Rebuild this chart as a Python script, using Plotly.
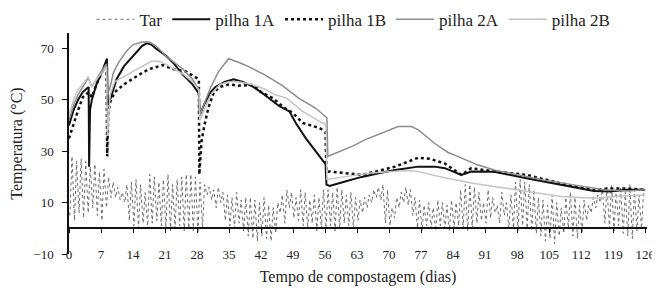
import plotly.graph_objects as go

# ---------------- data ----------------
tick_days = [0, 7, 14, 21, 28, 35, 42, 49, 56, 63, 70, 77, 84, 91, 98, 105, 112, 119, 126]
y_ticks = [-10, 10, 30, 50, 70]

# Air temperature (Tar): daily maximum and minimum, days 0..125
tar_days = list(range(126))
tar_max = [28, 26, 27, 26, 24,
           25, 22, 23, 20, 18,
           16, 14, 17, 18,
           19, 17, 14, 21,
           20, 18, 19, 21, 17,
           19, 20, 21, 21, 20, 18, 17,
           16, 15, 16, 14,
           13, 12, 14, 11, 12,
           12, 11, 10, 12, 9, 8, 10,
           13, 15, 14, 12, 15,
           14, 11, 13, 12, 15,
           15, 14, 16, 15, 13, 14,
           12, 11, 12, 13, 15, 16, 17, 15,
           8, 12, 14, 16, 15, 12,
           11, 9, 10, 8, 11, 10, 9, 11, 10,
           15, 17, 17, 16, 14, 10,
           15, 12, 9, 14, 10, 13,
           18, 19, 18, 17, 15,
           12, 11, 9, 13, 10, 8, 12, 14, 12, 9,
           11, 9, 12, 13, 15,
           16, 17, 15, 16, 14, 17, 15, 13, 14]
tar_min = [5, 3, 6, 4, 6,
           8, 5, 3, 8, 12,
           12, 11, 10, 3,
           1, 0, 2, 1,
           2, 3, 1, 0, -1,
           0, 1, -1, 0, -1, -2, 0,
           13, 11, 8, 10,
           3, 1, 0, 2, -1,
           -3, -4, -5, -3, -4, -5, -2,
           6, 2, 8, 4, 3,
           1, 0, 2, -1, 0,
           0, 1, -1, 0, 2, 1,
           0, 3, 6, 8, 10, 12, 11, 2,
           1, 4, 8, 10, 9, 5,
           0, -1, 1, 0, -1, 1, 0, -1, 0,
           1, 0, -1, 0, 2, 3,
           2, 4, 6, 2, 5, 0,
           0, -1, 1, 0, -1,
           -2, -3, -5, -4, -6, -3, -2, 0, -3, -4,
           -2, 3, 6, 8, 10,
           2, 0, -1, 1, -2, -3, -4, -1, 0]

p1a_day = [0, 1, 2, 3, 4.3, 4.4, 4.6, 5, 6, 7, 8.3, 8.5, 9, 10.4, 12, 14, 16, 17, 18, 19,
           21.3, 23, 24.8, 27, 28.4, 28.6, 29.5, 31, 32, 34, 36, 38, 40.3, 42, 44.6, 46,
           48.2, 49.6, 51.8, 54, 56.1, 56.3, 57, 60, 64, 68, 71.3, 76.4, 80, 82.2, 85.8,
           88, 93, 100, 107.6, 114.8, 118.4, 122, 126]
p1a_val = [40, 46, 50, 53, 55, 24, 46, 50, 56, 60, 66, 48, 50, 58, 63, 67, 71, 72, 71.5, 70,
           67, 64, 60, 56, 52.5, 44, 48, 53, 55, 57, 58, 57, 55, 53, 49.5, 47.5,
           45.5, 41, 35, 30, 25, 17, 16.5, 18, 20, 21.5, 22.7, 24, 24, 23.4, 20.8,
           22.1, 22, 19.5, 17, 14.5, 14.3, 15, 15]

p1b_day = [0, 1, 2, 3, 4.3, 5, 6, 7, 8.2, 8.35, 8.6, 9, 10, 12, 14, 16, 17.6, 20.5, 22.7,
           25.6, 28.4, 28.5, 29, 29.6, 30.5, 31.7, 33, 35, 37, 40.3, 42, 44.6, 47, 49,
           51.1, 54.8, 56.1, 56.3, 57, 60, 64, 68, 71.3, 76.4, 79, 82.2, 85.8, 88, 93,
           100, 107.6, 114.8, 118, 122, 126]
p1b_val = [35, 41, 46, 51, 53, 51, 56, 60, 64, 28, 45, 49, 53, 56, 58.4, 60.5, 62, 63.5, 62,
           61, 58, 21, 34, 40, 47, 53, 55, 56, 55.5, 55.8, 53, 50.6, 47, 44.8,
           41, 39, 37.5, 22, 22.1, 21.5, 20.8, 22.5, 24, 27.5, 27, 25.2, 20.8, 23.4, 22.1,
           20.8, 17.5, 14.9, 15.5, 15.5, 15]

p2a_day = [0, 1, 2, 3, 4.2, 5, 6, 7, 8.2, 8.4, 9, 9.7, 11, 12.6, 14, 16, 17.6, 19, 21.2, 23,
           24.9, 27, 28.4, 28.6, 29.8, 31, 32.7, 34.9, 37.2, 39.4, 43, 46.6, 50.3, 53.9,
           56.4, 56.6, 58, 62, 64.8, 68.4, 72, 74.9, 76.4, 80, 82.9, 85, 89.3, 93, 96.6,
           100, 103.8, 110, 117, 122, 126]
p2a_val = [42, 48, 52, 55, 58.5, 55, 58, 61, 64, 52, 55, 60.5, 65, 69, 71.5, 72.5, 72.5, 71, 67, 64.5,
           62, 58, 54, 44, 49.4, 55, 61, 66, 64.5, 62.8, 59.5, 55.6, 50.6, 46.8,
           43, 28, 29, 32, 34.5, 37, 39.6, 39.6, 38.3, 33, 29.5, 28, 24.7, 22.7, 21.4,
           20, 18.8, 17, 15, 14.5, 15]

p2b_day = [0, 1, 2, 3, 4.2, 5, 6, 7, 8.2, 8.4, 9, 10, 12, 14, 16, 18, 19.5, 21, 23, 25, 27,
           28.4, 28.6, 29.8, 31, 33, 35, 37, 40, 43, 45, 47.5, 51.1, 54.8, 56.2, 56.4, 58,
           62, 66, 70, 74, 76.4, 80, 84.4, 88, 94, 100.3, 107.6, 114.8, 120, 126]
p2b_val = [44, 50, 54, 56, 59, 55, 58, 60, 63, 36, 52, 57, 59, 61, 63, 65, 65, 64, 62, 60, 57,
           54, 42, 47, 52, 56, 57, 57, 56, 54, 52, 50.7, 45.5, 41.6, 40.3, 19, 19.5,
           20.5, 21.5, 22, 22.5, 22.1, 20.5, 18.9, 17.6, 16, 14.3, 12.4, 11.7, 12.5, 13]

# build Tar series: minimum in the early morning, maximum in the afternoon
tar_x, tar_y = [], []
for d, lo, hi in zip(tar_days, tar_min, tar_max):
    tar_x += [d + 0.2, d + 0.65]
    tar_y += [lo, hi]

FONT = "Liberation Serif"
X_RANGE = [0, 126.4]
Y_RANGE = [-10, 76]

fig = go.Figure()
fig.add_trace(go.Scatter(x=tar_x, y=tar_y, name="Tar", mode="lines",
                         line=dict(color="#6a6a6a", width=1, dash="dot")))
fig.add_trace(go.Scatter(x=p1a_day, y=p1a_val, name="pilha 1A", mode="lines",
                         line=dict(color="#111111", width=2)))
fig.add_trace(go.Scatter(x=p1b_day, y=p1b_val, name="pilha 1B", mode="lines",
                         line=dict(color="#111111", width=2.5, dash="dot")))
fig.add_trace(go.Scatter(x=p2a_day, y=p2a_val, name="pilha 2A", mode="lines",
                         line=dict(color="#8c8c8c", width=1.5)))
fig.add_trace(go.Scatter(x=p2b_day, y=p2b_val, name="pilha 2B", mode="lines",
                         line=dict(color="#c4c4c4", width=1.5)))
# invisible helper trace on the zero-line axis
fig.add_trace(go.Scatter(x=[0], y=[0], xaxis="x2", mode="markers",
                         marker=dict(opacity=0), showlegend=False, hoverinfo="skip"))

zero_pos = (0 - Y_RANGE[0]) / (Y_RANGE[1] - Y_RANGE[0])

# the page body adds an 8 px offset, so the figure is 8 px smaller than the window
fig.update_layout(
    width=652, height=283,
    margin=dict(l=61, r=13, t=25, b=37, autoexpand=False),
    paper_bgcolor="white", plot_bgcolor="white",
    font=dict(family=FONT, color="#222222", size=13),
    showlegend=True,
    legend=dict(orientation="h", x=0.039, xanchor="left", y=1.06, yanchor="middle",
                font=dict(family=FONT, size=17, color="#222222"),
                itemwidth=38, tracegroupgap=0, bgcolor="rgba(0,0,0,0)"),
    xaxis=dict(range=X_RANGE, tickvals=tick_days, ticktext=[str(t) for t in tick_days],
               anchor="free", position=0.04, showline=False, ticks="",
               showgrid=False, zeroline=False, automargin=False,
               tickfont=dict(family=FONT, size=13, color="#222222"),
               title=dict(text="Tempo de compostagem (dias)", standoff=9,
                          font=dict(family=FONT, size=16, color="#222222"))),
    xaxis2=dict(range=X_RANGE, overlaying="x", anchor="free", position=zero_pos,
                tickvals=tick_days, showticklabels=False, showline=True,
                linecolor="#111111", linewidth=1.5, ticks="outside", ticklen=4,
                tickcolor="#111111", showgrid=False, zeroline=False, automargin=False),
    yaxis=dict(range=Y_RANGE, tickvals=y_ticks, showline=True, linecolor="#111111",
               linewidth=1.5, ticks="outside", ticklen=5, tickcolor="#111111",
               ticklabelstandoff=6, automargin=False,
               showgrid=False, zeroline=False,
               tickfont=dict(family=FONT, size=13, color="#222222"),
               title=dict(text="Temperatura (°C)", standoff=8,
                          font=dict(family=FONT, size=16, color="#222222"))),
)

fig.write_html("out.html")
